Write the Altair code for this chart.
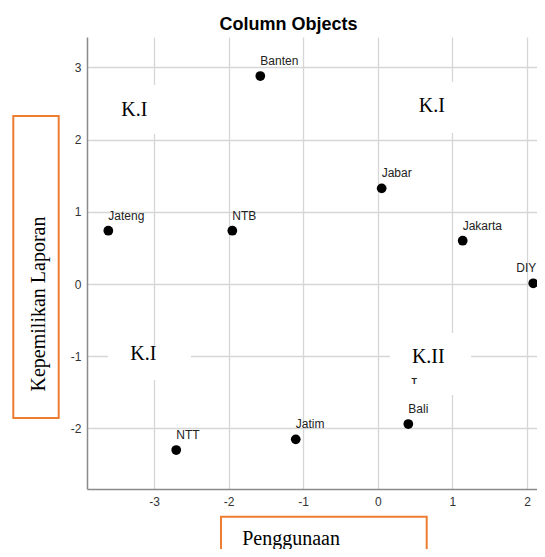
import altair as alt
import pandas as pd

# ---- data ----
names = ["Banten", "Jabar", "Jateng", "NTB", "Jakarta", "DIY", "NTT", "Jatim", "Bali"]
dim1 = [-1.575, 0.052, -3.612, -1.950, 1.138, 2.084, -2.702, -1.100, 0.409]
dim2 = [2.880, 1.325, 0.738, 0.738, 0.600, 0.010, -2.299, -2.151, -1.939]

x_ticks = [-3, -2, -1, 0, 1, 2]
y_ticks = [-2, -1, 0, 1, 2, 3]

# quadrant annotations (text boxes)
q_text = ["K.I", "K.I", "K.I", "K.II"]
q_x = [-3.264, 0.723, -3.143, 0.677]
q_y = [2.41, 2.465, -0.97, -1.007]
box_x0 = [-3.724, 0.365, -3.616, 0.164]
box_x1 = [-2.785, 1.303, -2.504, 1.250]
box_y0 = [2.078, 2.090, -1.330, -1.537]
box_y1 = [2.756, 2.800, -0.873, -0.679]
mark_text = ["T"]
mark_x = [0.489]
mark_y = [-1.339]

X_DOMAIN = [-3.898, 2.134]
Y_DOMAIN = [-2.839, 3.421]

pts = pd.DataFrame({"name": names, "x": dim1, "y": dim2})
quad = pd.DataFrame({"label": q_text, "x": q_x, "y": q_y})
boxes = pd.DataFrame({"x": box_x0, "x2": box_x1, "y": box_y0, "y2": box_y1})
small = pd.DataFrame({"label": mark_text, "x": mark_x, "y": mark_y})

xscale = alt.Scale(domain=X_DOMAIN, nice=False, zero=False)
yscale = alt.Scale(domain=Y_DOMAIN, nice=False, zero=False)

common_axis = dict(
    grid=True, gridColor="#d6d6d6", gridWidth=1.3,
    domainColor="#8a8a8a", domainWidth=1.5,
    ticks=False,
    labelExpr="'' + datum.value",
    labelFont="Liberation Sans", labelFontSize=12, labelColor="#333333",
    titleFont="Liberation Serif", titleFontSize=20, titleFontWeight="normal",
    titleColor="black", titleBaseline="alphabetic",
)
xaxis = alt.Axis(values=x_ticks, title="Penggunaan", labelPadding=7,
                 titleX=154.7, titleY=55, titleAlign="left", **common_axis)
yaxis = alt.Axis(values=y_ticks, title="Kepemilikan Laporan", labelPadding=6,
                 titleAngle=270, titleX=-43, titleY=266.5, titleAlign="center",
                 **common_axis)

X = alt.X("x:Q", scale=xscale, axis=xaxis)
Y = alt.Y("y:Q", scale=yscale, axis=yaxis)

white_boxes = alt.Chart(boxes).mark_rect(fill="white", stroke=None).encode(
    x=X, x2="x2:Q", y=Y, y2="y2:Q"
)

quad_text = alt.Chart(quad).mark_text(
    font="Liberation Serif", fontSize=20, color="black",
    align="center", baseline="middle"
).encode(x=X, y=Y, text="label:N")

small_text = alt.Chart(small).mark_text(
    font="Liberation Sans", fontSize=9, fontWeight="bold", color="#222222",
    align="center", baseline="middle"
).encode(x=X, y=Y, text="label:N")

points = alt.Chart(pts).mark_circle(size=95, color="black", opacity=1).encode(
    x=X, y=Y
)

labels = alt.Chart(pts).transform_filter(
    "datum.name != 'DIY'"
).mark_text(
    font="Liberation Sans", fontSize=12, color="#222222",
    align="left", baseline="alphabetic", dx=0, dy=-11
).encode(x=X, y=Y, text="name:N")

# the label of the point at the right edge is set flush right so it stays visible
edge_label = alt.Chart(pts).transform_filter(
    "datum.name == 'DIY'"
).mark_text(
    font="Liberation Sans", fontSize=12, color="#222222",
    align="right", baseline="alphabetic", dx=3, dy=-11
).encode(x=X, y=Y, text="name:N")

one = pd.DataFrame({"k": [0]})
ybox = alt.Chart(one).mark_rect(
    fill="white", fillOpacity=0, stroke="#ED7D31", strokeWidth=2, clip=False
).encode(x=alt.value(-73.7), x2=alt.value(-28.3), y=alt.value(79), y2=alt.value(381))
xbox = alt.Chart(one).mark_rect(
    fill="white", fillOpacity=0, stroke="#ED7D31", strokeWidth=2, clip=False
).encode(x=alt.value(134), x2=alt.value(339.7), y=alt.value(479.7), y2=alt.value(530))

chart = alt.layer(
    white_boxes, quad_text, small_text, points, labels, edge_label, ybox, xbox
).properties(
    width=450, height=452,
    autosize=alt.AutoSizeParams(type="none"),
    padding={"left": 79, "top": 29, "right": 0, "bottom": 60},
    title=alt.TitleParams(
        text="Column Objects", font="Liberation Sans", fontSize=18,
        fontWeight="bold", color="black", anchor="middle", dx=-23.5,
        offset=7, dy=18, baseline="alphabetic"
    ),
).configure_view(stroke=None)

chart.save("out.html", embed_options={"renderer": "svg", "actions": False})
